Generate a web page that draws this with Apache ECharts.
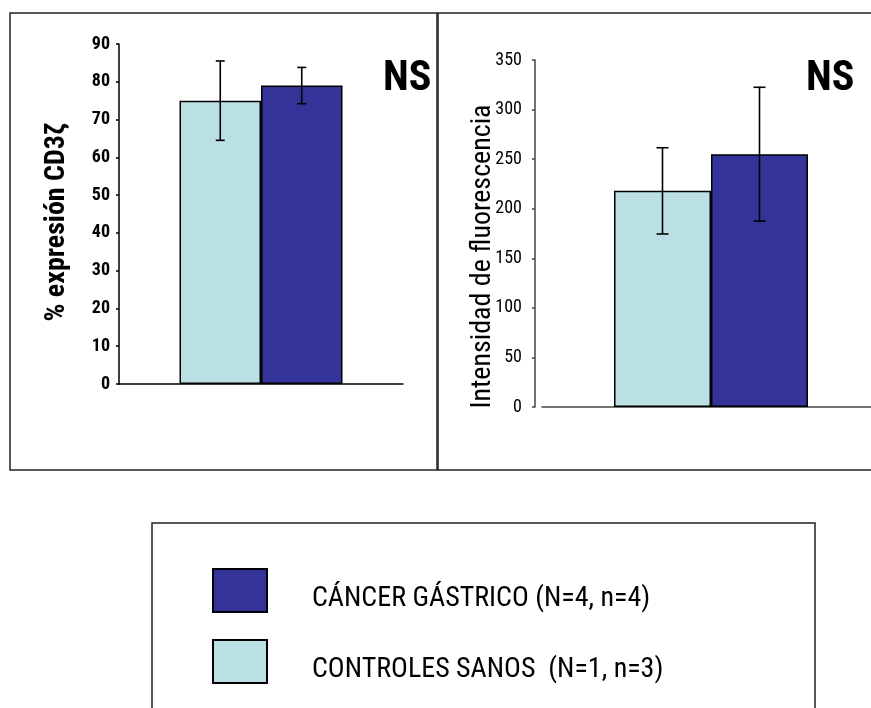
<!DOCTYPE html>
<html>
<head>
<meta charset="utf-8">
<script src="https://cdn.jsdelivr.net/npm/echarts@6/dist/echarts.min.js"></script>
<style>
  html, body { margin: 0; padding: 0; background: #fff; }
  #chart { width: 871px; height: 708px; }
</style>
</head>
<body>
<div id="chart"></div>
<script>
// Groups, in bar order (left to right)
const groupNames = ['CONTROLES SANOS  (N=1, n=3)', 'CÁNCER GÁSTRICO (N=4, n=4)'];
const groupColors = ['#BBE0E3', '#333399'];

// Panel 1: % CD3ζ expression (mean ± error)
const cd3Means = [75, 79];
const cd3Errors = [10.5, 4.8];
const cd3Ticks = [0, 10, 20, 30, 40, 50, 60, 70, 80, 90];
const cd3Title = '% expresión CD3ζ';

// Panel 2: fluorescence intensity (mean ± error)
const mfiMeans = [218, 255];
const mfiErrors = [43.5, 67.5];
const mfiTicks = [0, 50, 100, 150, 200, 250, 300, 350];
const mfiTitle = 'Intensidad de fluorescencia';

// Significance mark shown in each panel
const significance = ['NS', 'NS'];

const NARROW = '"Roboto Condensed", "Liberation Sans", sans-serif';

const panels = [
  { means: cd3Means, errors: cd3Errors, ticks: cd3Ticks, title: cd3Title,
    barWidth: 81.5, capWidth: 9, axisColor: '#000', labelWeight: 'bold', titleWeight: 'bold',
    labelMargin: 9, nameGap: 48, namePad: [0, 16, 0, 0], offset: 0 },
  { means: mfiMeans, errors: mfiErrors, ticks: mfiTicks, title: mfiTitle,
    barWidth: 97, capWidth: 12, axisColor: '#444', labelWeight: 'normal', titleWeight: 'normal',
    labelMargin: 13, nameGap: 38, namePad: [0, 46, 0, 0], offset: 7 }
];

const grids = [
  { left: 119, width: 284, top: 44, height: 340, outerBoundsMode: 'none' },
  { left: 542, width: 338, top: 60, height: 347, outerBoundsMode: 'none' }
];

const xAxes = panels.map((p, gi) => ({
  type: 'category', gridIndex: gi, data: [''],
  axisTick: { show: false }, axisLabel: { show: false },
  axisLine: { lineStyle: { color: p.axisColor, width: 1.5 } }
}));

const yAxes = panels.map((p, gi) => ({
  type: 'value', gridIndex: gi,
  min: p.ticks[0], max: p.ticks[p.ticks.length - 1], interval: p.ticks[1] - p.ticks[0],
  offset: p.offset,
  splitLine: { show: false },
  axisLine: { show: true, lineStyle: { color: p.axisColor, width: 1.5 } },
  axisTick: { show: true, length: 3, lineStyle: { color: p.axisColor, width: 1.5 } },
  axisLabel: { margin: p.labelMargin, color: '#000', fontFamily: NARROW, fontSize: 18, fontWeight: p.labelWeight },
  name: p.title, nameLocation: 'middle', nameRotate: 90, nameGap: p.nameGap, nameMoveOverlap: false,
  nameTextStyle: { color: '#000', fontFamily: NARROW, fontSize: 28, fontWeight: p.titleWeight, padding: p.namePad }
}));

const series = [];
panels.forEach((p, gi) => {
  groupNames.forEach((name, k) => {
    series.push({
      type: 'bar', name: name, xAxisIndex: gi, yAxisIndex: gi,
      data: [p.means[k]], barWidth: p.barWidth, barGap: '0%',
      itemStyle: { color: groupColors[k], borderColor: '#000', borderWidth: 1.5 },
      emphasis: { disabled: true }, animation: false
    });
  });
  // error bars: [category, low, high, group slot]
  series.push({
    type: 'custom', xAxisIndex: gi, yAxisIndex: gi, z: 10, animation: false,
    encode: { x: 0, y: [1, 2] },
    data: p.means.map((m, k) => [0, m - p.errors[k], m + p.errors[k], k]),
    renderItem: function (params, api) {
      const slot = api.value(3);
      const lo = api.coord([api.value(0), api.value(1)]);
      const hi = api.coord([api.value(0), api.value(2)]);
      const x = lo[0] + (slot - 0.5) * p.barWidth;
      const half = p.capWidth / 2;
      const st = { stroke: '#000', lineWidth: 1.6 };
      return {
        type: 'group',
        children: [
          { type: 'line', shape: { x1: x, y1: lo[1], x2: x, y2: hi[1] }, style: st },
          { type: 'line', shape: { x1: x - half, y1: hi[1], x2: x + half, y2: hi[1] }, style: st },
          { type: 'line', shape: { x1: x - half, y1: lo[1], x2: x + half, y2: lo[1] }, style: st }
        ]
      };
    }
  });
});

const frame = { fill: 'none', stroke: '#222', lineWidth: 1.5 };

const option = {
  backgroundColor: '#fff',
  animation: false,
  grid: grids,
  xAxis: xAxes,
  yAxis: yAxes,
  legend: {
    data: [groupNames[1], groupNames[0]],
    orient: 'vertical', left: 212, top: 568, padding: 0,
    icon: 'rect', itemWidth: 54, itemHeight: 43, itemGap: 26,
    selectedMode: false,
    // an empty leading line drops each label slightly below its swatch centre
    formatter: name => '\n' + name,
    textStyle: { color: '#000', fontFamily: NARROW, fontSize: 28, lineHeight: 17, padding: [0, 0, 0, 40] }
  },
  graphic: [
    { type: 'rect', shape: { x: 10, y: 13, width: 427, height: 457 }, style: frame, silent: true },
    { type: 'rect', shape: { x: 438, y: 13, width: 450, height: 457 }, style: frame, silent: true },
    { type: 'rect', shape: { x: 152, y: 523, width: 663, height: 220 }, style: frame, silent: true },
    { type: 'text', x: 383, y: 79, style: { text: significance[0], fill: '#000', font: 'bold 42px ' + NARROW, verticalAlign: 'middle' } },
    { type: 'text', x: 806, y: 79, style: { text: significance[1], fill: '#000', font: 'bold 42px ' + NARROW, verticalAlign: 'middle' } }
  ],
  series: series
};

const chart = echarts.init(document.getElementById('chart'), null, { renderer: 'canvas' });
chart.setOption(option);
</script>
</body>
</html>
